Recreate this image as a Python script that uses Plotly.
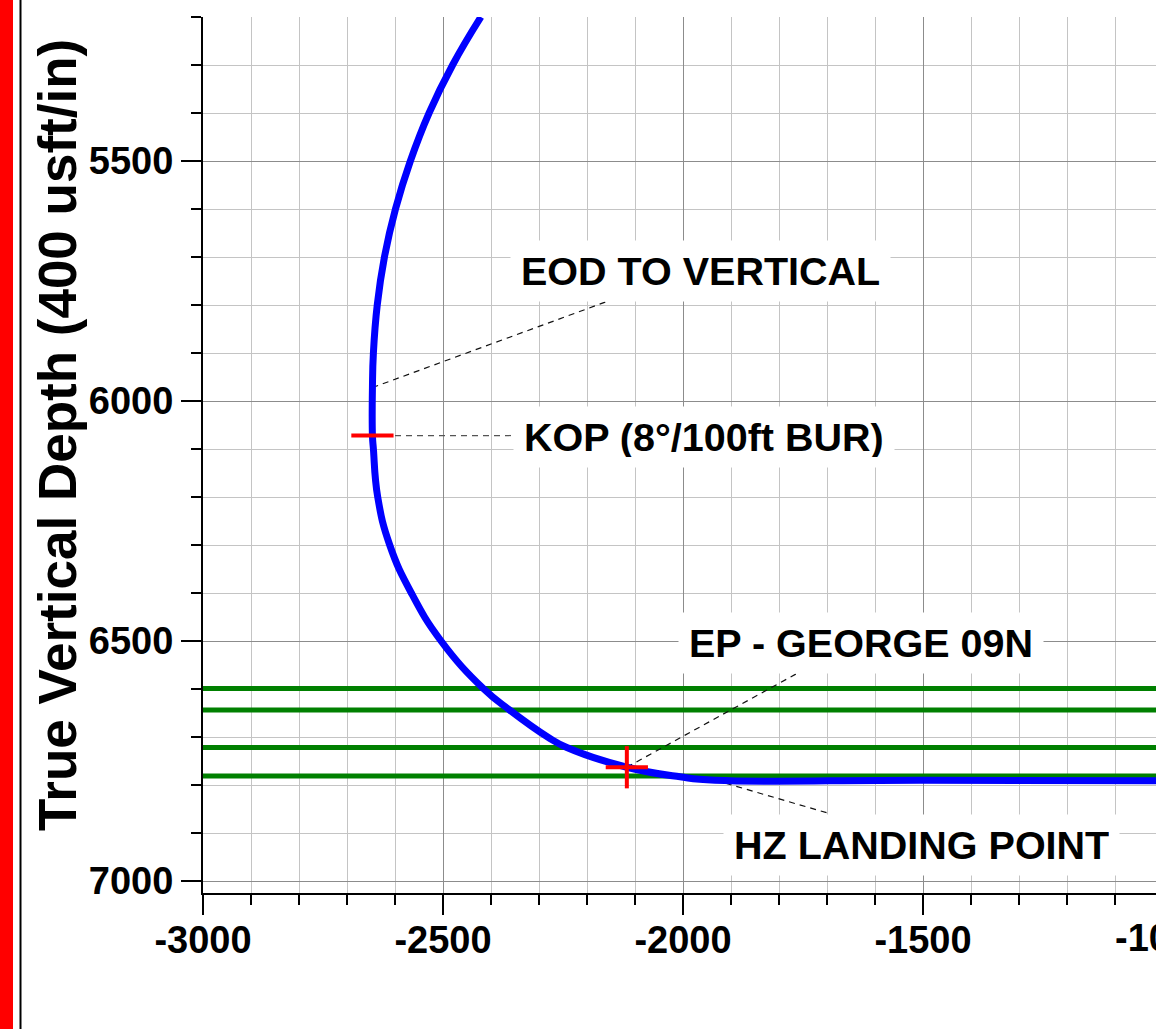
import plotly.graph_objects as go

# ---------------- data ----------------
# Well trajectory: vertical section (ft) and true vertical depth (ft)
traj_vs = [-2421, -2480, -2529, -2568, -2599, -2622, -2637, -2645, -2647,
           -2647, -2645, -2636, -2611, -2566, -2504, -2416, -2361, -2282,
           -2242, -2117, -2006, -1933, -1500, -1000]
traj_tvd = [5200, 5300, 5400, 5500, 5600, 5700, 5800, 5900, 5972,
            6072, 6100, 6200, 6300, 6400, 6500, 6599, 6644, 6700,
            6722, 6763, 6783, 6790, 6790, 6791]

# Formation tops (green horizontal lines)
formation_tvd = [6599, 6644, 6722, 6781]

# Key points
kop_point = (-2647, 6072)
eod_point = (-2647, 5972)
ep_point = (-2117, 6763)
landing_point = (-1933, 6790)

# Label texts and label anchors (left edge of label box, centre depth)
label_texts = ["EOD TO VERTICAL", "KOP (8°/100ft BUR)", "EP - GEORGE 09N", "HZ LANDING POINT"]
label_x = [-2360, -2354, -2010, -1917]
label_y = [5729, 6075, 6505, 6925]

# Leader line end points (at label side)
leader_from = [eod_point, (-2600, 6072), ep_point, landing_point]
leader_to = [(-2162, 5794), (-2354, 6072), (-1765, 6569), (-1700, 6858)]

# Axis ticks
x_tickvals = [-3000, -2500, -2000, -1500]
x_ticktext = ["-3000", "-2500", "-2000", "-1500"]
x_offscreen_label = "-1000"
y_tickvals = [5500, 6000, 6500, 7000]
y_ticktext = ["5500", "6000", "6500", "7000"]
x_range = [-3000, -1014.6]
y_range = [7025, 5200]
y_title = "True Vertical Depth (400 usft/in)"

FONT = "Liberation Sans, Arial, sans-serif"

fig = go.Figure()

# formation lines
for d in formation_tvd:
    fig.add_trace(go.Scatter(x=[-3000, -1000], y=[d, d], mode="lines",
                             line=dict(color="#008000", width=5),
                             hoverinfo="skip", showlegend=False))

# leader lines
for i, (p0, p1) in enumerate(zip(leader_from, leader_to)):
    col = "#555555" if i == 1 else "#111111"
    fig.add_trace(go.Scatter(x=[p0[0], p1[0]], y=[p0[1], p1[1]], mode="lines",
                             line=dict(color=col, width=1.2, dash="6px,5px"),
                             hoverinfo="skip", showlegend=False))

# trajectory
fig.add_trace(go.Scatter(x=traj_vs, y=traj_tvd, mode="lines",
                         line=dict(color="#0000FF", width=7, shape="spline", smoothing=1.3),
                         hoverinfo="skip", showlegend=False))

# red markers
arm = 44
red = dict(color="#FF0000", width=4)
fig.add_trace(go.Scatter(x=[kop_point[0] - arm, kop_point[0] + arm], y=[kop_point[1]] * 2,
                         mode="lines", line=red, hoverinfo="skip", showlegend=False))
fig.add_trace(go.Scatter(x=[ep_point[0] - arm, ep_point[0] + arm], y=[ep_point[1]] * 2,
                         mode="lines", line=red, hoverinfo="skip", showlegend=False))
fig.add_trace(go.Scatter(x=[ep_point[0]] * 2, y=[ep_point[1] - arm, ep_point[1] + arm],
                         mode="lines", line=red, hoverinfo="skip", showlegend=False))

annotations = []
for t, x, y in zip(label_texts, label_x, label_y):
    annotations.append(dict(x=x, y=y, xref="x", yref="y", text=t, showarrow=False,
                            xanchor="left", yanchor="middle", bgcolor="white",
                            borderpad=10, height=40,
                            font=dict(family=FONT, size=39.5, color="black", weight="bold")))
# y axis title
annotations.append(dict(x=0, xref="paper", xshift=-146, y=6071, yref="y", text=y_title,
                        showarrow=False, textangle=-90, xanchor="center", yanchor="middle",
                        font=dict(family=FONT, size=53, color="black", weight="bold")))
# partially visible tick label at right edge (-1000 sits just past the window)
annotations.append(dict(x=1, xref="paper", xshift=7, y=0, yref="paper", yshift=-45,
                        text=x_offscreen_label, showarrow=False, xanchor="center",
                        yanchor="middle",
                        font=dict(family=FONT, size=38, color="black", weight="bold")))

shapes = [
    dict(type="rect", xref="paper", yref="paper", xsizemode="pixel", xanchor=0,
         x0=-203, x1=-190, y0=-0.3, y1=1.1, fillcolor="#FF0000", line=dict(width=0),
         layer="above"),
    dict(type="line", xref="paper", yref="paper", xsizemode="pixel", xanchor=0,
         x0=-182.5, x1=-182.5, y0=-0.3, y1=1.1, line=dict(color="black", width=2),
         layer="above"),
]

axis_common = dict(
    showline=True, linecolor="black", linewidth=2,
    ticks="outside", ticklen=20, tickwidth=2, tickcolor="black",
    showgrid=True, gridcolor="#8c8c8c", gridwidth=1,
    zeroline=False,
    tickfont=dict(family=FONT, size=38, color="black", weight="bold"),
    minor=dict(dtick=100, tick0=0, ticks="outside", ticklen=10, tickwidth=1.5,
               tickcolor="black", showgrid=True, gridcolor="#c4c4c4", gridwidth=1),
)

fig.update_layout(
    width=1156, height=1029,
    margin=dict(l=203, r=0, t=17, b=136),
    paper_bgcolor="white", plot_bgcolor="white",
    xaxis=dict(range=x_range, tickmode="array", tickvals=x_tickvals, ticktext=x_ticktext,
               ticklabelstandoff=-8, **axis_common),
    yaxis=dict(range=y_range, tickmode="array", tickvals=y_tickvals, ticktext=y_ticktext,
               **axis_common),
    annotations=annotations, shapes=shapes,
    showlegend=False,
)

fig.write_html("out.html", config={"displayModeBar": False},
               post_script="document.body.style.margin='0';")
